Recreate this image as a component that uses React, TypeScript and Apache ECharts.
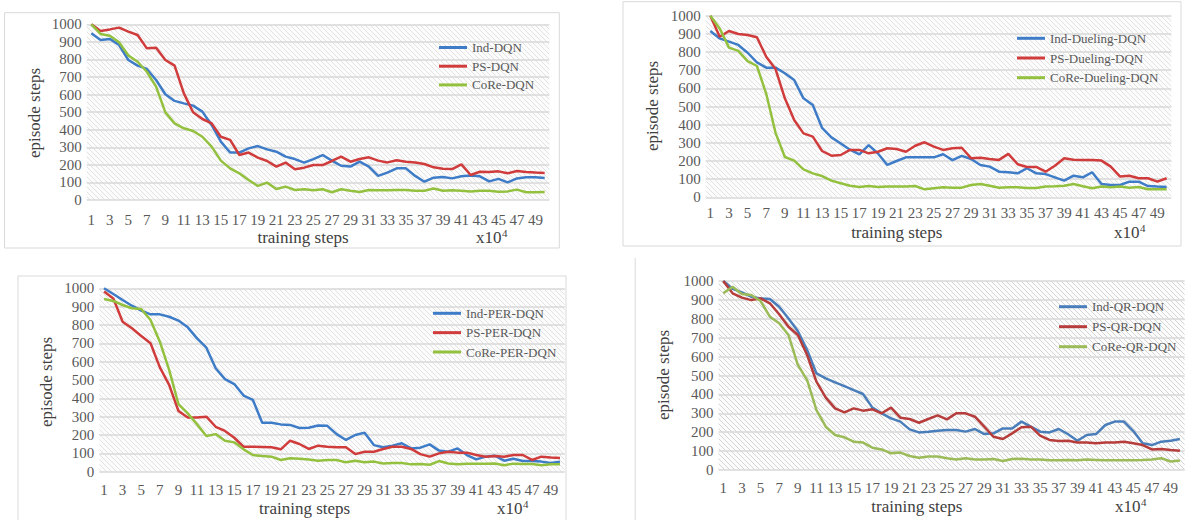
import React, { useEffect, useRef } from 'react';
import * as echarts from 'echarts';

const categories = ['1','2','3','4','5','6','7','8','9','10','11','12','13','14','15','16','17','18','19','20','21','22','23','24','25','26','27','28','29','30','31','32','33','34','35','36','37','38','39','40','41','42','43','44','45','46','47','48','49','50'];

// Panel 1: DQN
const indDQN = [949,911,917,882,797,765,746,683,602,564,550,537,503,427,332,270,270,294,307,288,275,247,233,213,233,256,224,195,190,218,190,137,156,180,180,137,104,127,131,123,135,140,135,106,120,100,123,129,129,125];
const psDQN = [1000,962,971,981,958,939,863,867,797,765,607,499,461,436,360,342,256,270,241,222,190,213,175,184,199,199,222,247,218,233,243,224,214,226,218,214,205,186,178,176,203,142,161,159,163,152,165,159,156,154];
const coreDQN = [1000,945,935,898,822,787,730,645,499,436,408,393,360,304,224,180,152,114,80,99,63,76,57,61,55,61,44,61,53,46,57,55,55,57,57,53,53,65,53,55,53,49,53,53,47,49,59,44,44,46];

// Panel 2: Dueling-DQN
const indDueling = [916,875,857,839,796,743,714,714,683,646,545,508,382,330,296,262,236,287,241,178,200,220,220,220,220,237,205,228,211,178,169,141,138,132,160,132,128,110,92,119,110,138,73,68,68,86,86,62,59,57];
const psDueling = [1000,884,916,899,894,881,774,706,545,426,352,334,255,229,233,261,261,242,251,270,266,251,284,303,279,261,270,273,215,218,211,206,239,182,167,167,141,174,215,207,206,206,202,169,114,119,105,105,86,105];
const coreDueling = [1000,930,824,806,750,723,570,355,222,202,154,132,117,92,77,64,57,62,57,59,59,59,62,44,50,55,53,53,68,73,64,53,55,55,51,51,59,61,64,73,61,50,59,55,59,53,57,44,44,44];

// Panel 3: PER-DQN
const indPER = [1000,969,936,905,878,858,858,845,824,787,727,676,564,505,478,415,391,267,267,258,255,238,240,252,250,205,173,200,213,145,133,142,155,127,131,149,115,109,127,91,67,82,87,60,71,58,58,55,47,55];
const psPER = [982,945,818,782,740,700,569,473,331,295,295,300,245,222,185,136,136,135,133,122,169,151,124,142,136,133,133,96,109,109,124,136,136,124,96,82,100,109,104,104,91,82,85,82,91,91,64,82,78,75];
const corePER = [942,931,909,891,887,827,709,555,369,318,258,195,205,169,160,122,91,85,82,64,73,71,67,60,64,64,51,60,51,55,45,47,47,40,42,38,58,45,40,44,44,44,45,35,44,42,42,35,40,40];

// Panel 4: QR-DQN
const indQR = [1000,958,940,917,908,905,864,802,735,635,511,485,464,444,423,402,330,300,273,256,215,199,203,208,212,212,203,217,190,194,220,220,256,229,203,199,217,189,155,185,190,238,256,256,206,141,132,150,155,164];
const psQR = [1000,935,912,899,908,882,824,758,714,608,467,383,326,305,326,314,321,300,330,277,270,250,270,289,268,300,300,282,229,176,164,194,226,229,182,159,153,155,145,146,141,146,146,150,141,132,109,111,106,102];
const coreQR = [935,970,931,926,894,811,776,714,556,476,317,229,185,173,150,145,118,109,88,92,74,65,71,71,62,56,62,56,56,58,48,58,60,56,55,51,51,53,51,55,53,51,51,51,51,53,56,62,45,50];

const namesDQN = ['Ind-DQN', 'PS-DQN', 'CoRe-DQN'];
const namesDueling = ['Ind-Dueling-DQN', 'PS-Dueling-DQN', 'CoRe-Dueling-DQN'];
const namesPER = ['Ind-PER-DQN', 'PS-PER-DQN', 'CoRe-PER-DQN'];
const namesQR = ['Ind-QR-DQN', 'PS-QR-DQN', 'CoRe-QR-DQN'];

const yTitle = 'episode steps';
const xTitle = 'training steps';

const FONT = 'Liberation Serif';
const colorsA = ['#3E7CC8', '#D03C3C', '#93C13F'];
const colorsB = ['#4A7EBB', '#B63D3B', '#9BBB59'];

function hatch(color: string, bg: string) {
  const svg = `<svg xmlns='http://www.w3.org/2000/svg' width='5' height='5'><rect width='5' height='5' fill='${bg}'/><path d='M-1,-1L6,6M-1,4L1,6M4,-1L6,1' stroke='${color}' stroke-width='1'/></svg>`;
  return {
    image: 'data:image/svg+xml;charset=utf-8,' + encodeURIComponent(svg),
    repeat: 'repeat',
    imageWidth: 5,
    imageHeight: 5,
  };
}

type Panel = {
  grid: { left: number; top: number; width: number; height: number };
  names: string[];
  data: number[][];
  colors: string[];
  legend: { left: number; top: number; itemGap: number };
  labelMargin: number;
  yTitlePos: [number, number];
  xTitlePos: [number, number];
  x10Pos: [number, number];
  hatchColor: string;
};

const panels: Panel[] = [
  {
    grid: { left: 86.7, top: 24.3, width: 462.6, height: 175.7 },
    names: namesDQN,
    data: [indDQN, psDQN, coreDQN],
    colors: colorsA,
    legend: { left: 439, top: 41, itemGap: 5.7 },
    labelMargin: 12,
    yTitlePos: [34, 113],
    xTitlePos: [303, 237],
    x10Pos: [476, 237],
    hatchColor: '#e2e2e2',
  },
  {
    grid: { left: 705.7, top: 15.7, width: 465.6, height: 181.6 },
    names: namesDueling,
    data: [indDueling, psDueling, coreDueling],
    colors: colorsA,
    legend: { left: 1017, top: 31.8, itemGap: 6.7 },
    labelMargin: 8.5,
    yTitlePos: [652, 106],
    xTitlePos: [896.7, 232.3],
    x10Pos: [1114, 232.3],
    hatchColor: '#e2e2e2',
  },
  {
    grid: { left: 99.35, top: 288.3, width: 465.3, height: 183.4 },
    names: namesPER,
    data: [indPER, psPER, corePER],
    colors: colorsA,
    legend: { left: 433, top: 306.8, itemGap: 6.35 },
    labelMargin: 10.8,
    yTitlePos: [46, 382],
    xTitlePos: [304.6, 508.3],
    x10Pos: [497, 508.3],
    hatchColor: '#e2e2e2',
  },
  {
    grid: { left: 718.6, top: 281, width: 466, height: 189 },
    names: namesQR,
    data: [indQR, psQR, coreQR],
    colors: colorsB,
    legend: { left: 1059, top: 300.2, itemGap: 7 },
    labelMargin: 10.5,
    yTitlePos: [663, 375],
    xTitlePos: [916.9, 506.7],
    x10Pos: [1115, 506.7],
    hatchColor: '#d4d4d4',
  },
];

export default function App() {
  const ref = useRef<HTMLDivElement>(null);

  useEffect(() => {
    if (!ref.current) return;
    const chart = echarts.init(ref.current, undefined, { renderer: 'svg' });

    const grids: any[] = [];
    const xAxes: any[] = [];
    const yAxes: any[] = [];
    const series: any[] = [];
    const legends: any[] = [];
    const graphics: any[] = [];

    // panel borders
    graphics.push(
      { type: 'rect', silent: true, z: -2, shape: { x: 4.5, y: 12.7, width: 554.8, height: 235.3 }, style: { fill: 'none', stroke: '#d9d9d9', lineWidth: 1 } },
      { type: 'rect', silent: true, z: -2, shape: { x: 623, y: 1.7, width: 558, height: 244.3 }, style: { fill: 'none', stroke: '#d9d9d9', lineWidth: 1 } },
      { type: 'rect', silent: true, z: -2, shape: { x: 18, y: 276, width: 548, height: 260 }, style: { fill: 'none', stroke: '#d9d9d9', lineWidth: 1 } },
      { type: 'line', silent: true, z: -2, shape: { x1: 635.2, y1: 258, x2: 635.2, y2: 520 }, style: { stroke: '#d9d9d9', lineWidth: 1 } }
    );

    panels.forEach((p, i) => {
      grids.push({ ...p.grid, containLabel: false });
      graphics.push({
        type: 'rect', silent: true, z: -1,
        shape: { x: p.grid.left, y: p.grid.top, width: p.grid.width, height: p.grid.height },
        style: { fill: hatch(p.hatchColor, '#fcfcfc') },
      });
      xAxes.push({
        type: 'category', gridIndex: i, data: categories, boundaryGap: true,
        axisTick: { show: false }, axisLine: { show: false },
        axisLabel: { interval: 1, fontSize: 15, color: '#595959', fontFamily: FONT, margin: p.labelMargin },
        splitLine: { show: false },
      });
      yAxes.push({
        type: 'value', gridIndex: i, min: 0, max: 1000, interval: 100,
        axisTick: { show: false }, axisLine: { show: false },
        axisLabel: { fontSize: 15, color: '#595959', fontFamily: FONT, margin: 5, formatter: (v: number) => String(v) },
        splitLine: { show: true, lineStyle: { color: '#d9d9d9', width: 1.5 } },
      });
      p.names.forEach((n, k) => {
        series.push({
          type: 'line', name: n, xAxisIndex: i, yAxisIndex: i, data: p.data[k],
          symbol: 'none', showSymbol: false,
          lineStyle: { width: 2.5, color: p.colors[k] }, itemStyle: { color: p.colors[k] },
        });
      });
      legends.push({
        data: p.names, orient: 'vertical', left: p.legend.left, top: p.legend.top,
        padding: 0, itemWidth: 28, itemHeight: 3, itemGap: p.legend.itemGap, itemTextGap: 3,
        icon: 'rect', textStyle: { fontSize: 13, color: '#595959', fontFamily: FONT },
      });
      graphics.push(
        { type: 'text', silent: true, x: p.yTitlePos[0], y: p.yTitlePos[1], rotation: Math.PI / 2,
          style: { text: yTitle, fontSize: 17, fontFamily: FONT, fill: '#404040', align: 'center', verticalAlign: 'middle' } },
        { type: 'text', silent: true, x: p.xTitlePos[0], y: p.xTitlePos[1],
          style: { text: xTitle, fontSize: 17, fontFamily: FONT, fill: '#404040', align: 'center', verticalAlign: 'middle' } },
        { type: 'text', silent: true, x: p.x10Pos[0], y: p.x10Pos[1],
          style: {
            text: '{a|x10}{b|4}', align: 'left', verticalAlign: 'middle',
            rich: {
              a: { fontSize: 17, fontFamily: FONT, fill: '#404040', lineHeight: 20 },
              b: { fontSize: 11, fontFamily: FONT, fill: '#404040', lineHeight: 20, verticalAlign: 'top', padding: [0, 0, 0, 0.5] },
            },
          } }
      );
    });

    chart.setOption({
      animation: false,
      backgroundColor: '#ffffff',
      textStyle: { fontFamily: FONT },
      grid: grids,
      xAxis: xAxes,
      yAxis: yAxes,
      legend: legends,
      series,
      graphic: { elements: graphics },
    });

    return () => chart.dispose();
  }, []);

  return <div ref={ref} style={{ position: 'fixed', left: 0, top: 0, width: 1188, height: 520 }} />;
}
